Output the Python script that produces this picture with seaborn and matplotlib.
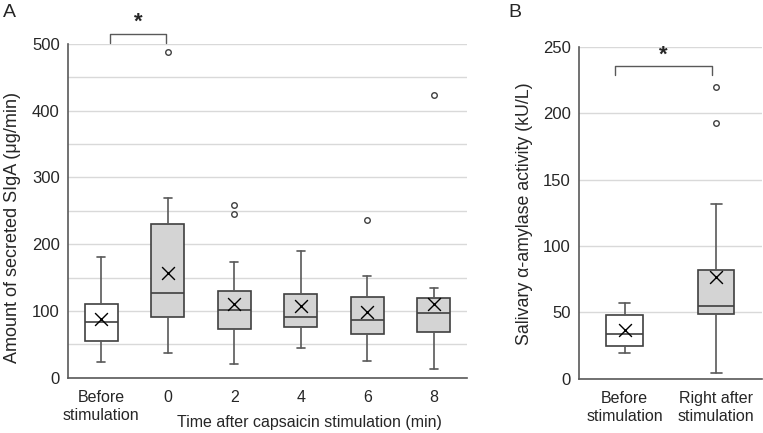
import numpy as np
import matplotlib.pyplot as plt
import seaborn as sns

# panel A: secreted SIgA (ug/min)
labels_a = ['Before\nstimulation', '0', '2', '4', '6', '8']
whislo_a = [24, 37, 21, 44, 25, 13]
q1_a = [55, 91, 73, 76, 65, 68]
med_a = [84, 127, 101, 91, 87, 97]
q3_a = [111, 230, 130, 125, 121, 120]
whishi_a = [181, 270, 173, 190, 152, 134]
mean_a = [88, 157, 111, 108, 98, 111]
fliers_a = [[], [488], [259, 245], [], [236], [424]]

# panel B: salivary alpha-amylase (kU/L)
labels_b = ['Before\nstimulation', 'Right after\nstimulation']
whislo_b = [19, 4]
q1_b = [25, 49]
med_b = [34, 55]
q3_b = [48, 82]
whishi_b = [57, 132]
mean_b = [37, 77]
fliers_b = [[], [220, 193]]

sns.set_style('white')
plt.rcParams['font.family'] = ['Liberation Sans', 'DejaVu Sans']

EDGE = '#404040'
GRID = '#d9d9d9'


def make_stats(lo, q1, med, q3, hi, fl):
    return [dict(whislo=a, q1=b, med=c, q3=d, whishi=e, fliers=f)
            for a, b, c, d, e, f in zip(lo, q1, med, q3, hi, fl)]


def draw_panel(ax, stats, means, labels, width, faces, ymax, label_step):
    pos = np.arange(len(stats))
    bp = ax.bxp(stats, positions=pos, widths=width, patch_artist=True,
                showfliers=True, capwidths=0.12,
                boxprops=dict(edgecolor=EDGE, linewidth=1.2),
                medianprops=dict(color=EDGE, linewidth=1.2),
                whiskerprops=dict(color='#595959', linewidth=1.2),
                capprops=dict(color='#595959', linewidth=1.2),
                flierprops=dict(marker='o', markersize=4, markerfacecolor='white',
                                markeredgecolor=EDGE, markeredgewidth=1))
    for patch, fc in zip(bp['boxes'], faces):
        patch.set_facecolor(fc)
    sns.scatterplot(x=pos, y=means, marker='x', color='black', s=85,
                    linewidth=1, ax=ax, zorder=5)
    ax.set_xlim(-0.5, len(stats) - 0.5)
    ax.set_ylim(0, ymax)
    ticks = np.arange(0, ymax + 1, 50)
    ax.set_yticks(ticks)
    ax.set_yticklabels([str(int(t)) if t % label_step == 0 else '' for t in ticks],
                       fontsize=12)
    ax.set_xticks(pos)
    ax.set_xticklabels(labels, fontsize=11.5, linespacing=1.25)
    ax.yaxis.grid(True, color=GRID, linewidth=1)
    ax.set_axisbelow(True)
    for s in ['top', 'right']:
        ax.spines[s].set_visible(False)
    for s in ['left', 'bottom']:
        ax.spines[s].set_color('#595959')
        ax.spines[s].set_linewidth(1.2)
    ax.tick_params(axis='y', length=3, color='#595959', pad=3)
    ax.tick_params(axis='x', length=0, pad=9)


fig = plt.figure(figsize=(7.63, 4.33), dpi=100)
ax_a = fig.add_axes([0.0891, 0.1277, 0.523, 0.7707])
ax_b = fig.add_axes([0.7588, 0.1254, 0.2398, 0.766])

draw_panel(ax_a, make_stats(whislo_a, q1_a, med_a, q3_a, whishi_a, fliers_a),
           mean_a, labels_a, 0.5, ['white'] + ['#d4d4d4'] * 5, 500, 100)
draw_panel(ax_b, make_stats(whislo_b, q1_b, med_b, q3_b, whishi_b, fliers_b),
           mean_b, labels_b, 0.4, ['white', '#d4d4d4'], 250, 50)

ax_a.set_ylabel('Amount of secreted SIgA (\u03bcg/min)', fontsize=13)
ax_a.yaxis.set_label_coords(-0.118, 0.45)
ax_b.set_ylabel('Salivary \u03b1-amylase activity (kU/L)', fontsize=12.8)
ax_b.yaxis.set_label_coords(-0.25, 0.498)
fig.text(0.405, 1 - 426.5 / 433, 'Time after capsaicin stimulation (min)',
         fontsize=11.5, ha='center', va='baseline')

# significance brackets
ax_a.plot([0.13, 0.13, 0.97, 0.97], [502, 515, 515, 502], color='#595959',
          lw=1, clip_on=False)
ax_a.text(0.55, 517, '*', ha='center', va='bottom', fontsize=16, fontweight='bold')
ax_b.plot([-0.11, -0.11, 0.95, 0.95], [229, 235.5, 235.5, 229], color='#595959',
          lw=1, clip_on=False)
ax_b.text(0.42, 236, '*', ha='center', va='bottom', fontsize=16, fontweight='bold')

fig.text(0.004, 0.99, 'A', fontsize=14, ha='left', va='top')
fig.text(0.666, 0.99, 'B', fontsize=14, ha='left', va='top')

fig.savefig('out.png', dpi=100)
